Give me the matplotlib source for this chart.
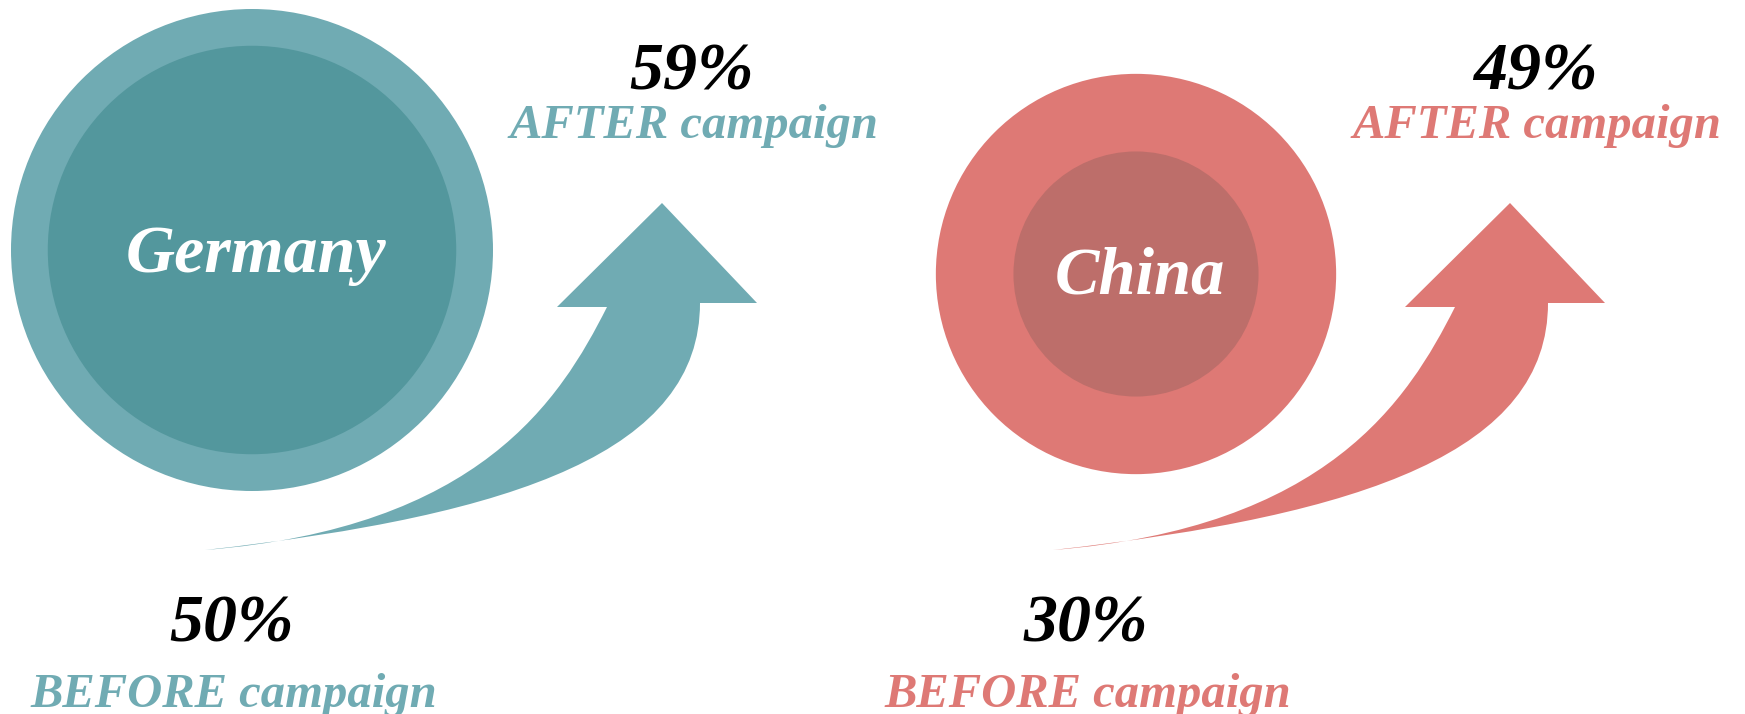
import matplotlib.pyplot as plt
from matplotlib.patches import Circle, PathPatch
from matplotlib.path import Path

# Werte vor und nach der Kampagne
countries = ['Germany', 'China']
before = [50, 30]
after = [59, 49]

outer_colors = ['#70abb3', '#de7975']
inner_colors = ['#53979d', '#bd6e6a']

# Layout in Pixeln (Achse = Bild, y nach unten)
centers = [(252, 250), (1136, 274)]
arrow_tails = [(205, 550), (1053, 550)]
after_x = [692, 1535]
before_x = [232, 1086]
px_per_pct = 241 / 59

serif = 'Liberation Serif'


def arrow_path(x0, y0):
    # gebogener Pfeil, Ende spitz, Kopf oben rechts
    pts = [(0, 0),
           (315, -35), (495, -100), (495, -247),
           (552, -247), (457, -347), (352, -243), (402, -243),
           (355, -150), (275, -22), (0, 0),
           (0, 0)]
    codes = ([Path.MOVETO] + [Path.CURVE4] * 3 + [Path.LINETO] * 4
             + [Path.CURVE4] * 3 + [Path.CLOSEPOLY])
    return Path([(x0 + dx, y0 + dy) for dx, dy in pts], codes)


fig = plt.figure(figsize=(17.45, 7.14), dpi=100)
ax = fig.add_axes([0, 0, 1, 1])
ax.set_xlim(0, 1745)
ax.set_ylim(714, 0)
ax.axis('off')

for i, name in enumerate(countries):
    cx, cy = centers[i]
    ax.add_patch(Circle((cx, cy), after[i] * px_per_pct, color=outer_colors[i], lw=0))
    ax.add_patch(Circle((cx, cy), before[i] * px_per_pct, color=inner_colors[i], lw=0))

    size = 49 if i == 0 else 48
    ax.text(cx + 4, cy + 22 if i == 0 else cy + 19, name, color='white', fontsize=size,
            family=serif, style='italic', weight='bold', ha='center', va='baseline')

    ax.add_patch(PathPatch(arrow_path(*arrow_tails[i]), color=outer_colors[i], lw=0))

    ax.text(after_x[i], 90, f'{after[i]}%', color='black', fontsize=49,
            family=serif, style='italic', weight='bold', ha='center', va='baseline')
    ax.text(after_x[i] + 2, 138, 'AFTER campaign', color=outer_colors[i], fontsize=35,
            family=serif, style='italic', weight='bold', ha='center', va='baseline')

    ax.text(before_x[i], 642, f'{before[i]}%', color='black', fontsize=49,
            family=serif, style='italic', weight='bold', ha='center', va='baseline')
    ax.text(before_x[i] + 2, 707, 'BEFORE campaign', color=outer_colors[i], fontsize=35,
            family=serif, style='italic', weight='bold', ha='center', va='baseline')

fig.savefig('out.png', dpi=100, facecolor='white')
